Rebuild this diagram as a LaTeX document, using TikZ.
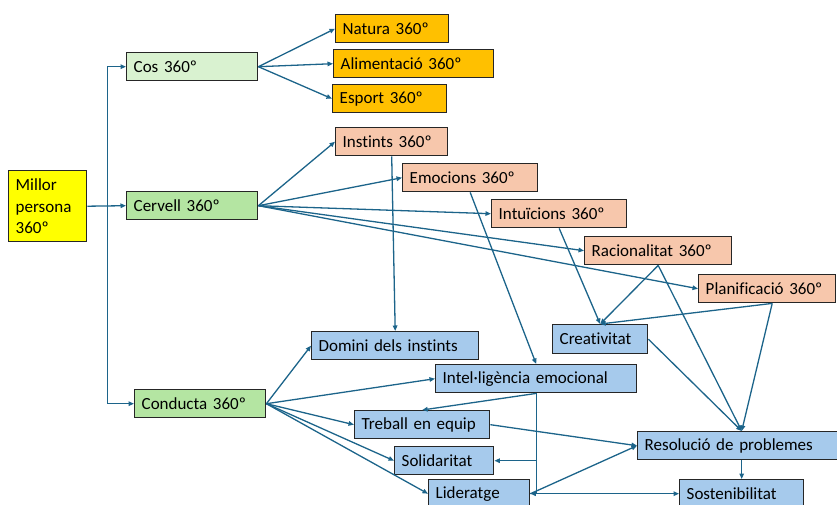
\documentclass[tikz,border=0pt]{standalone}
\usepackage{fontspec}
\setmainfont{Carlito}[Ligatures=NoCommon]
\usepackage{tikz}
\usetikzlibrary{arrows.meta}
\definecolor{linkblue}{HTML}{1C648A}
\definecolor{millyellow}{HTML}{FFFF00}
\definecolor{paleGreen}{HTML}{D9F2D0}
\definecolor{midGreen}{HTML}{B4E5A2}
\definecolor{deepOrange}{HTML}{FFC000}
\definecolor{peach}{HTML}{F7C7AC}
\definecolor{skyBlue}{HTML}{A6CAEC}
\tikzset{
  frame/.style={draw=black!85, line width=1.4pt, anchor=north west, inner xsep=7pt, inner ysep=0pt, align=left},
  box/.style={frame, minimum height=28pt, text width=#1, execute at begin node=\hbox\bgroup, execute at end node=\egroup},
  arr/.style={draw=linkblue, line width=1.3pt, -{Triangle[length=5.5pt,width=4.5pt]}}
}

\begin{document}
\begin{tikzpicture}[x=1pt, y=-1pt, every node/.style={font=\fontsize{17}{21.5}\selectfont}]
  \useasboundingbox (0,0) rectangle (837,504);
  % root
  \node[frame, text width=64pt, minimum height=71pt, fill=millyellow] (mil) at (8,170) {Millor\\persona\\360º};
  % first level
  \node[box=117pt, fill=paleGreen] (cos) at (126,52) {Cos 360º};
  \node[box=117pt, fill=midGreen] (cer) at (126,191) {Cervell 360º};
  \node[box=117pt, fill=midGreen] (con) at (134,389) {Conducta 360º};
  % body
  \node[box=99pt, fill=deepOrange] (nat) at (335,14) {Natura 360º};
  \node[box=146pt, fill=deepOrange] (ali) at (333,49) {Alimentació 360º};
  \node[box=100pt, fill=deepOrange] (esp) at (332,84) {Esport 360º};
  % brain
  \node[box=98pt, fill=peach] (ins) at (335,127) {Instints 360º};
  \node[box=121pt, fill=peach] (emo) at (402,163) {Emocions 360º};
  \node[box=121pt, fill=peach] (intu) at (491,199) {Intuïcions 360º};
  \node[box=133pt, fill=peach] (rac) at (584,236) {Racionalitat 360º};
  \node[box=123pt, fill=peach] (pla) at (698,274) {Planificació 360º};
  % conduct
  \node[box=81pt, fill=skyBlue, minimum height=29pt] (cre) at (552,324) {Creativitat};
  \node[box=153pt, fill=skyBlue] (dom) at (311,331) {Domini dels instints};
  \node[box=187pt, fill=skyBlue] (intel) at (435,364) {Intel·ligència emocional};
  \node[box=121pt, fill=skyBlue] (treb) at (354,410) {Treball en equip};
  \node[box=85pt, fill=skyBlue] (sol) at (394,446) {Solidaritat};
  \node[box=87pt, fill=skyBlue] (lid) at (428,479) {Lideratge};
  \node[box=194pt, fill=skyBlue] (res) at (637,431) {Resolució de problemes};
  \node[box=110pt, fill=skyBlue] (sos) at (679,479) {Sostenibilitat};

  \coordinate (fork) at ([xshift=20pt]mil.east);
  \draw[arr] (mil.east) -- (cer.west);
  \draw[arr] (fork) |- (cos.west);
  \draw[arr] (fork) |- (con.west);

  \draw[arr] (cos.east) -- (nat.west);
  \draw[arr] (cos.east) -- (ali.west);
  \draw[arr] (cos.east) -- (esp.west);

  \draw[arr] (cer.east) -- (ins.west);
  \draw[arr] (cer.east) -- (emo.west);
  \draw[arr] (cer.east) -- (intu.west);
  \draw[arr] (cer.east) -- (rac.west);
  \draw[arr] (cer.east) -- (pla.west);

  \draw[arr] (con.east) -- (dom.west);
  \draw[arr] (con.east) -- (intel.west);
  \draw[arr] (con.east) -- (treb.west);
  \draw[arr] (con.east) -- (sol.west);
  \draw[arr] (con.east) -- (lid.west);

  \draw[arr] (ins.south) -- (dom.north);
  \draw[arr] (emo.south) -- (intel.north);
  \draw[arr] (intu.south) -- (cre.north);
  \draw[arr] (rac.south) -- (cre.north);
  \draw[arr] ([xshift=5pt]pla.south) -- (cre.north);
  \draw[arr] (rac.south) -- (res.north);
  \draw[arr] ([xshift=5pt]pla.south) -- (res.north);
  \draw[arr] (cre.east) -- (res.north);

  \draw[arr] (intel.south) -- (treb.north);
  \draw[arr] (intel.south) |- (sol.east);
  \draw[arr] (intel.south) |- (lid.east);
  \draw[arr] (treb.east) -- (res.west);
  \draw[arr] (lid.east) -- (res.west);
  \draw[arr] (lid.east) -- (sos.west);
  \draw[arr] (res.south) -- (sos.north);
\end{tikzpicture}
\end{document}
